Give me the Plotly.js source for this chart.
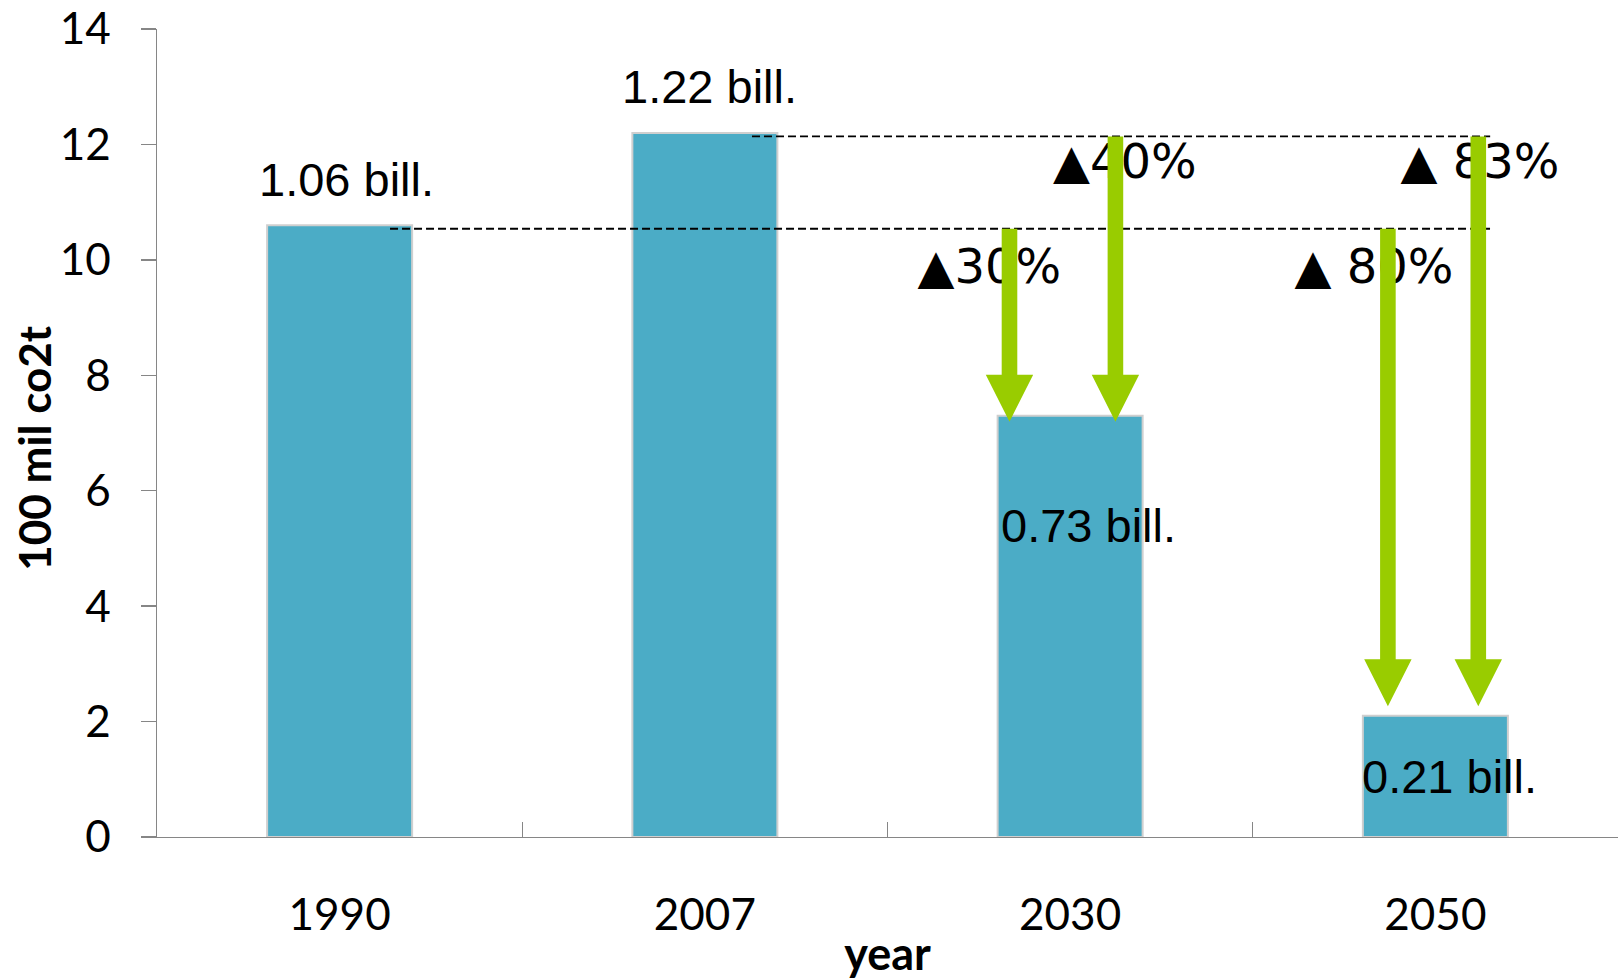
<!DOCTYPE html>
<html>
<head>
<meta charset="utf-8">
<script src="https://cdn.plot.ly/plotly-3.0.1.min.js"></script>
<style>html,body{margin:0;padding:0;background:#fff;}#chart{width:1623px;height:980px;}</style>
</head>
<body>
<div id="chart"></div>
<script>
// ---- data ----
const years = ['1990', '2007', '2030', '2050'];
const emissions = [10.6, 12.2, 7.3, 2.1];          // 100 mil t CO2
const valueLabels = ['1.06 bill.', '1.22 bill.', '0.73 bill.', '0.21 bill.'];
const yTicks = [0, 2, 4, 6, 8, 10, 12, 14];
const reductionBases = ['1990', '2007', '1990', '2007'];
const reductionTargets = ['2030', '2030', '2050', '2050'];
const reductionLabels = ['▲30%', '▲40%', '▲ 80%', '▲ 83%'];

// ---- positions / styles (not data) ----
const W = 1623, H = 980;
const M = {l: 157, r: 5, t: 29, b: 143};
const yMax = 14;
const plotW = W - M.l - M.r, plotH = H - M.t - M.b;
const unitPx = plotH / yMax;
const valueLabelShift = [[7, 46], [5, 46], [18, -110], [14, -61]];
const arrowX = [1.834, 2.124, 2.870, 3.1175];
const arrowTipShiftPx = [-6, -6, 9.5, 9.5];
const guideDropPx = 3.5;
const reductionLabelPos = [[1.779, 9.80], [2.150, 11.63], [2.832, 9.80], [3.122, 11.63]];
const guideStart = {'1990': 0.138, '2007': 1.129};
const guideEnd = 3.15;
const GREEN = '#99CC00';
const BAR = '#4BACC6';
const AXIS = '#868686';
const shaftHalf = 7.8, headHalf = 23.7, headLen = 47;

const idx = y => years.indexOf(y);

const shapes = [];
// dashed reference lines
Object.keys(guideStart).forEach(base => {
  const v = emissions[idx(base)];
  shapes.push({
    type: 'line', xref: 'x2', yref: 'y', layer: 'above',
    ysizemode: 'pixel', yanchor: v,
    x0: guideStart[base], x1: guideEnd, y0: -guideDropPx, y1: -guideDropPx,
    line: {color: '#000', width: 1.8, dash: '8px,4px'}
  });
});
// reduction arrows
reductionBases.forEach((base, i) => {
  const start = emissions[idx(base)] - guideDropPx / unitPx;
  const tip = emissions[idx(reductionTargets[i])] + arrowTipShiftPx[i] / unitPx;
  const hb = tip + headLen / unitPx;
  const path = `M ${-shaftHalf},${start} L ${shaftHalf},${start} L ${shaftHalf},${hb} ` +
               `L ${headHalf},${hb} L 0,${tip} L ${-headHalf},${hb} L ${-shaftHalf},${hb} Z`;
  shapes.push({
    type: 'path', xref: 'x2', yref: 'y', layer: 'above',
    xsizemode: 'pixel', xanchor: arrowX[i],
    path: path, fillcolor: GREEN, line: {width: 0}
  });
});

const annotations = valueLabels.map((t, i) => ({
  xref: 'x2', yref: 'y', x: i, y: emissions[i],
  text: t, showarrow: false, xanchor: 'center', yanchor: 'middle',
  xshift: valueLabelShift[i][0], yshift: valueLabelShift[i][1],
  font: {family: 'Liberation Sans, Arial, sans-serif', size: 47, color: '#000'}
}));

const titleFont = {family: 'Lato, sans-serif', size: 45, color: '#000', weight: 'bold'};
// y-axis title
annotations.push({
  xref: 'paper', yref: 'paper',
  x: (34 - M.l) / plotW, y: (H - M.b - 447.7) / plotH,
  text: '100 mil co2t', textangle: -90, showarrow: false,
  xanchor: 'center', yanchor: 'middle',
  font: {family: 'Lato, sans-serif', size: 44, color: '#000', weight: 'bold'}
});

const traces = [
  {
    type: 'bar', x: years, y: emissions,
    marker: {color: BAR, line: {color: '#cfcfcf', width: 2}},
    hoverinfo: 'skip', showlegend: false
  },
  {
    type: 'scatter', mode: 'text', xaxis: 'x2', yaxis: 'y',
    x: reductionLabelPos.map(p => p[0]), y: reductionLabelPos.map(p => p[1]),
    text: reductionLabels, textposition: 'middle center', cliponaxis: false,
    textfont: {family: 'DejaVu Sans, sans-serif', size: 48, color: '#000'},
    hoverinfo: 'skip', showlegend: false
  }
];

const tickFont = {family: 'Lato, sans-serif', size: 44, color: '#000'};

const layout = {
  width: W, height: H,
  margin: M,
  paper_bgcolor: '#fff', plot_bgcolor: '#fff',
  bargap: 0.603,
  showlegend: false,
  xaxis: {
    type: 'category', range: [-0.5, 3.5], fixedrange: true,
    tickson: 'boundaries', ticks: 'inside', ticklen: 15, tickwidth: 1.3, tickcolor: AXIS,
    showline: true, linecolor: AXIS, linewidth: 1.3,
    showgrid: false, zeroline: false,
    tickfont: tickFont, ticklabelstandoff: 39,
    title: {text: 'year', font: titleFont, standoff: 22}
  },
  xaxis2: {
    type: 'linear', overlaying: 'x', anchor: 'y', range: [-0.5, 3.5],
    visible: false, fixedrange: true
  },
  yaxis: {
    range: [0, yMax], tickvals: yTicks, fixedrange: true,
    ticks: 'outside', ticklen: 15, tickwidth: 1.3, tickcolor: AXIS,
    showline: true, linecolor: AXIS, linewidth: 1.3,
    showgrid: false, zeroline: false,
    tickfont: tickFont, ticklabelstandoff: 21, ticklabeloverflow: 'allow'
  },
  shapes: shapes,
  annotations: annotations
};

Plotly.newPlot('chart', traces, layout, {displayModeBar: false, staticPlot: true});
</script>
</body>
</html>
